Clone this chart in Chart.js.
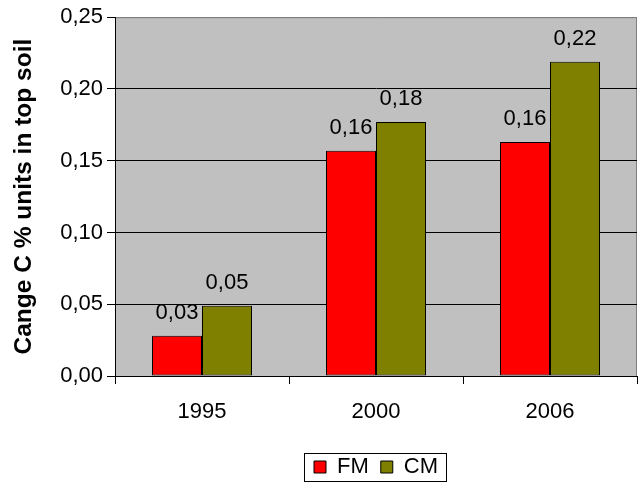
<!DOCTYPE html>
<html>
<head>
<meta charset="utf-8">
<script src="https://cdn.jsdelivr.net/npm/chart.js@4/dist/chart.umd.min.js"></script>
<style>
  html, body { margin: 0; padding: 0; background: #fff; }
  #wrap { width: 638px; height: 491px; }
</style>
</head>
<body>
<div id="wrap"><canvas id="c" width="638" height="491"></canvas></div>
<script>
const years = ["1995", "2000", "2006"];
const fmValues = [0.028, 0.157, 0.163];
const cmValues = [0.049, 0.177, 0.219];
const yTicks = [0, 0.05, 0.10, 0.15, 0.20, 0.25];

const FONT = "'Liberation Sans', Arial, sans-serif";
const comma = (v) => v.toFixed(2).replace(".", ",");

// gray plot background with a gray frame on top/right
const plotBg = {
  id: "plotBg",
  beforeDraw(chart) {
    const { ctx, chartArea: a } = chart;
    ctx.save();
    ctx.fillStyle = "#C0C0C0";
    ctx.fillRect(a.left, a.top, a.right - a.left, a.bottom - a.top);
    ctx.strokeStyle = "#808080";
    ctx.lineWidth = 1;
    ctx.strokeRect(a.left + 0.5, a.top + 0.5, a.right - a.left - 1, a.bottom - a.top);
    ctx.restore();
  },
};

// value labels over the bars
const barLabels = {
  id: "barLabels",
  afterDatasetsDraw(chart) {
    const { ctx } = chart;
    ctx.save();
    ctx.font = "22px " + FONT;
    ctx.fillStyle = "#000";
    ctx.textAlign = "center";
    ctx.textBaseline = "middle";
    chart.data.datasets.forEach((ds, i) => {
      chart.getDatasetMeta(i).data.forEach((bar, j) => {
        ctx.fillText(comma(ds.data[j]), bar.x, bar.y - 23);
      });
    });
    ctx.restore();
  },
};

// black frame round the legend
const legendFrame = {
  id: "legendFrame",
  afterDraw(chart) {
    const l = chart.legend;
    if (!l || !l.legendHitBoxes || !l.legendHitBoxes.length) return;
    const hb = l.legendHitBoxes;
    const x0 = hb[0].left - 10;
    const x1 = hb[hb.length - 1].left + hb[hb.length - 1].width + 8;
    const cy = hb[0].top + hb[0].height / 2;
    const { ctx } = chart;
    ctx.save();
    ctx.strokeStyle = "#000";
    ctx.lineWidth = 1;
    ctx.strokeRect(Math.round(x0) + 0.5, Math.round(cy - 14) + 0.5, Math.round(x1 - x0), 28);
    ctx.restore();
  },
};

new Chart(document.getElementById("c"), {
  type: "bar",
  data: {
    labels: years,
    datasets: [
      { label: "FM", data: fmValues, backgroundColor: "#FF0000" },
      { label: "CM", data: cmValues, backgroundColor: "#808000" },
    ],
  },
  options: {
    responsive: false,
    animation: false,
    events: [],
    layout: { padding: { top: 15, right: 1, left: 0, bottom: 3 } },
    datasets: {
      bar: {
        borderColor: "#000",
        borderWidth: 1,
        borderSkipped: false,
        barPercentage: 1,
        categoryPercentage: 0.575,
      },
    },
    plugins: {
      tooltip: { enabled: false },
      legend: {
        position: "bottom",
        fullSize: false,
        labels: {
          color: "#000",
          font: { family: FONT, size: 22 },
          boxWidth: 12,
          boxHeight: 12,
          padding: 12,
        },
      },
    },
    scales: {
      x: {
        afterFit: (s) => { s.height = 68; },
        grid: {
          offset: true,
          drawOnChartArea: false,
          color: "#000",
          tickLength: 8,
        },
        border: { color: "#000", width: 1 },
        ticks: { color: "#000", font: { family: FONT, size: 22 }, padding: 15 },
      },
      y: {
        min: 0,
        max: 0.25,
        afterFit: (s) => { s.width = 115; },
        afterBuildTicks: (s) => { s.ticks = yTicks.map((v) => ({ value: v })); },
        grid: {
          color: (c) => (c.tick && c.tick.value === 0.25 ? "#808080" : "#000"),
          tickColor: "#000",
          tickLength: 8,
        },
        border: { color: "#000", width: 1 },
        ticks: {
          color: "#000",
          font: { family: FONT, size: 22 },
          padding: 4,
          callback: (v) => comma(v),
        },
        title: {
          display: true,
          text: "Cange C % units in top soil",
          color: "#000",
          font: { family: FONT, size: 24.5, weight: "bold" },
          padding: { top: 10, bottom: 0 },
        },
      },
    },
  },
  plugins: [plotBg, barLabels, legendFrame],
});
</script>
</body>
</html>
